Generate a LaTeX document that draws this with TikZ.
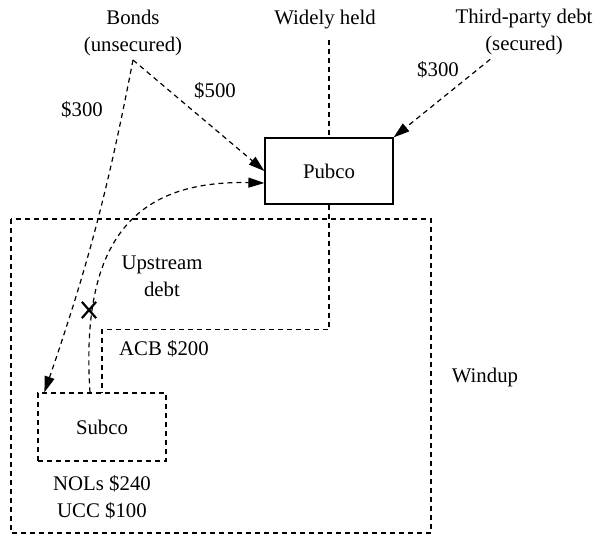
\documentclass[tikz,border=0pt]{standalone}
\usepackage{fontspec}
\setmainfont{Liberation Serif}
\usetikzlibrary{arrows.meta,shapes.misc}

\tikzset{
  txt/.style={align=center,inner sep=2pt,font=\fontsize{10.4}{13.5}\selectfont},
  entity/.style={draw,line width=0.6pt,minimum width=64pt,minimum height=33pt,font=\fontsize{10.4}{13.5}\selectfont},
  dashline/.style={line width=0.6pt,dash pattern=on 2.5pt off 2pt},
  link/.style={dashline,-{Triangle[length=8pt,width=5pt]}}
}

\begin{document}
\begin{tikzpicture}[x=0.5pt,y=-0.5pt]
	\useasboundingbox (0,0) rectangle (595,535);
	% holders
	\node[txt,anchor=south] (bonds) at (133,60) {Bonds\\(unsecured)};
	\node[txt,anchor=base] (widely) at (325,25) {Widely held};
	\node[txt] (third) at (524,32) {Third-party debt\\(secured)};
	% Windup
	\draw[dashline] (11,219) rectangle (431,533);
	\node[txt] (windup) at (485,377) {Windup};
	% corporations
	\node[entity] (pubco) at (329,171) {Pubco};
	\node[entity,dashline,minimum height=34pt] (subco) at (102,427) {Subco};
	% shareholdings
	\draw[dashline,shorten <=3.3pt] (pubco.north |- widely.south) -- (pubco.north);
	\draw[dashline] (pubco.south) -- ++(0,125) -| (subco.north);
	% debt
	\draw[link] (bonds.south) -- (pubco.west);
	\draw[link] (bonds.south) to[bend left=4] ([xshift=3.5pt]subco.north west);
	\draw[link] (third) -- (pubco.north east);
	\draw[link] ([xshift=-6pt]subco.north) .. controls (80,240) and (135,180) .. ([yshift=-6pt]pubco.west);
	\node[cross out,draw,line width=1.1pt,minimum width=6pt,minimum height=7pt,inner sep=0pt] (cut) at (89,310) {};
	% amounts
	\node[txt] (bondsub) at (82,110) {\$300};
	\node[txt] (bondpub) at (215,91) {\$500};
	\node[txt] (thirdpub) at (438,70) {\$300};
	\node[txt] (upstream) at (162,276) {Upstream\\debt};
	\node[txt] (acb) at (164,349) {ACB \$200};
	\node[txt] (tax) at (102,497) {NOLs \$240\\UCC \$100};
\end{tikzpicture}
\end{document}
